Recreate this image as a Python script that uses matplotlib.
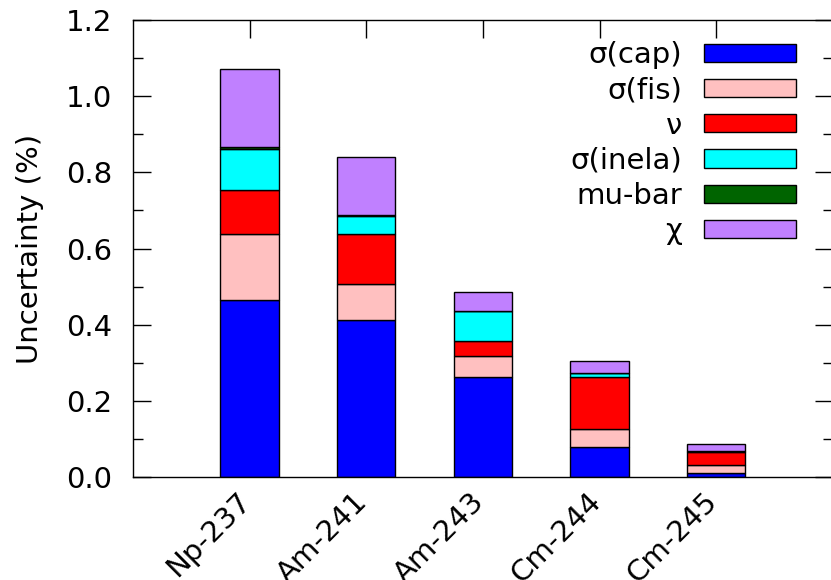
import numpy as np
import matplotlib
matplotlib.use("Agg")
import matplotlib.pyplot as plt
import matplotlib.transforms as mtrans
from matplotlib.ticker import MultipleLocator, FormatStrFormatter

# nuclides and the uncertainty contribution of each data component (%)
nuclides = ["Np-237", "Am-241", "Am-243", "Cm-244", "Cm-245"]
sig_cap = [0.465, 0.412, 0.263, 0.079, 0.010]
sig_fis = [0.173, 0.096, 0.055, 0.046, 0.022]
nu = [0.116, 0.129, 0.038, 0.137, 0.034]
sig_inela = [0.106, 0.048, 0.080, 0.010, 0.002]
mu_bar = [0.006, 0.003, 0.001, 0.001, 0.000]
chi = [0.205, 0.153, 0.049, 0.032, 0.018]

components = [
    ("σ(cap)", sig_cap, "#0000ff"),
    ("σ(fis)", sig_fis, "#ffc0c0"),
    ("ν", nu, "#ff0000"),
    ("σ(inela)", sig_inela, "#00ffff"),
    ("mu-bar", mu_bar, "#006400"),
    ("χ", chi, "#c080ff"),
]

plt.rcParams['font.family'] = ['DejaVu Sans']
fs = 21

fig = plt.figure(figsize=(8.31, 5.80), dpi=100)
ax = fig.add_axes([0.160, 0.1776, 0.8424, 0.7879])
ax.set_axisbelow(True)

x = np.arange(len(nuclides))
bottom = np.zeros(len(nuclides))
for name, vals, col in components:
    vals = np.array(vals)
    ax.bar(x, vals, width=0.5, bottom=bottom, color=col, edgecolor="black",
           linewidth=1.0, label=name)
    bottom += vals

ax.set_xlim(-1, 5)
ax.set_ylim(0, 1.2)
ax.yaxis.set_major_locator(MultipleLocator(0.2))
ax.yaxis.set_minor_locator(MultipleLocator(0.1))
ax.yaxis.set_major_formatter(FormatStrFormatter("%.1f"))
ax.set_xticks(x)
ax.set_xticklabels(nuclides, rotation=45, ha="right", rotation_mode="anchor")

ax.tick_params(axis="both", which="major", direction="in", length=13, width=1,
               top=True, right=True, labelsize=fs)
ax.tick_params(axis="y", which="major", pad=15)
ax.tick_params(axis="x", which="major", pad=16)
ax.tick_params(axis="y", which="minor", direction="in", length=7, width=1,
               right=True)
for sp in ax.spines.values():
    sp.set_linewidth(1.0)

# nudge the rotated nuclide names up and to the left
shift = mtrans.ScaledTranslation(-0.13, 0.12, fig.dpi_scale_trans)
for lab in ax.get_xticklabels():
    lab.set_transform(lab.get_transform() + shift)

ax.set_ylabel("Uncertainty (%)", fontsize=fs, labelpad=16)

ax.legend(loc="upper right", bbox_to_anchor=(0.947, 0.954), frameon=False,
          markerfirst=False, fontsize=fs, handlelength=3.14, handleheight=0.59,
          handletextpad=0.76, labelspacing=0.25, borderpad=0, borderaxespad=0)

fig.savefig("out.png", dpi=100)
